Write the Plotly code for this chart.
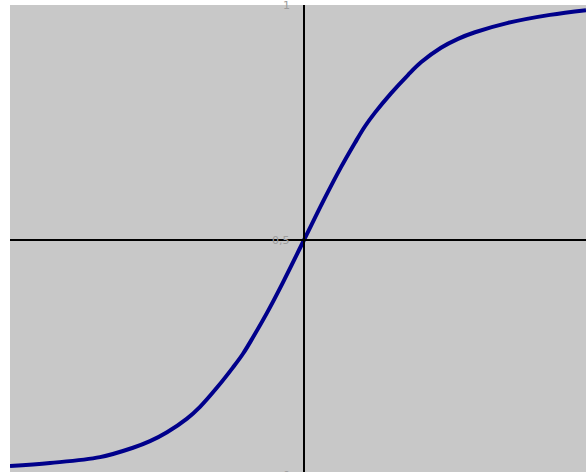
import plotly.graph_objects as go

# Curve points
x_vals = [-4.9, -4.233, -3.4, -2.85, -2.567, -2.283, -1.95, -1.733, -1.45, -1.183,
          -1.017, -0.85, -0.617, -0.35, 0.0, 0.35, 0.617, 0.85, 1.017, 1.183,
          1.45, 1.733, 1.95, 2.283, 2.567, 2.85, 3.4, 4.1, 4.7]
y_vals = [0.019, 0.0255, 0.038, 0.058, 0.072, 0.091, 0.120, 0.145, 0.186, 0.229,
          0.258, 0.293, 0.345, 0.41, 0.5, 0.59, 0.655, 0.707, 0.742, 0.771,
          0.812, 0.851, 0.878, 0.909, 0.928, 0.942, 0.962, 0.979, 0.989]

y_ticks = [0, 0.5, 1]
y_tick_labels = ["0", "0,5", "1"]

Y_LO, Y_HI = 0.0064, 1.0
PX_PER_UNIT = 467 / (Y_HI - Y_LO)

fig = go.Figure()
fig.add_trace(go.Scatter(
    x=x_vals, y=y_vals, mode="lines",
    line=dict(color="#00008b", width=4, shape="spline", smoothing=1.0),
    hoverinfo="skip", showlegend=False,
))

for v, t in zip(y_ticks, y_tick_labels):
    yv = min(max(v, Y_LO), Y_HI)
    fig.add_annotation(
        x=0, y=yv, xref="x", yref="y", text=t, showarrow=False,
        xanchor="right", yanchor="middle", xshift=-12,
        yshift=(v - yv) * PX_PER_UNIT,
        font=dict(family="DejaVu Sans", size=11, color="#9c9c9c"),
    )

fig.update_layout(
    width=586, height=472,
    margin=dict(l=10, r=0, t=5, b=0, autoexpand=False),
    paper_bgcolor="white",
    plot_bgcolor="#c8c8c8",
    xaxis=dict(
        range=[-4.9, 4.7], showgrid=False, zeroline=False,
        showticklabels=False, ticks="",
        showline=True, linecolor="black", linewidth=2,
        anchor="free", position=0.4968, automargin=False,
    ),
    yaxis=dict(
        range=[Y_LO, Y_HI], showgrid=False, zeroline=False,
        showticklabels=False, ticks="",
        showline=True, linecolor="black", linewidth=2,
        anchor="free", position=0.5104, automargin=False,
    ),
)

fig.write_html(
    "out.html",
    config={"displayModeBar": False, "staticPlot": True},
    post_script="document.body.style.margin='0';document.body.style.overflow='hidden';",
)
